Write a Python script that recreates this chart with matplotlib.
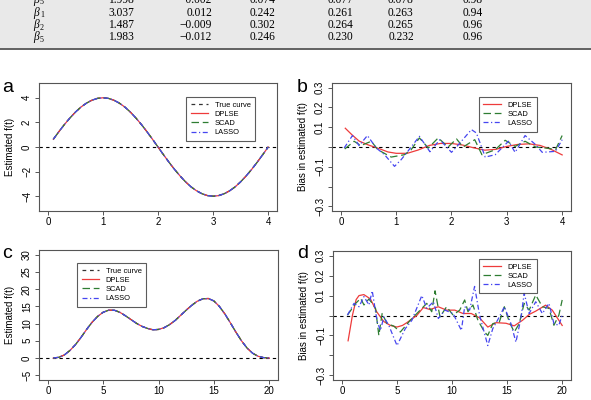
import numpy as np
import matplotlib.pyplot as plt
from matplotlib.patches import Rectangle

plt.rcParams['font.family'] = ['Liberation Sans', 'DejaVu Sans']

# table fragment at the top (rows are beta coefficients, subscript index)
row_index = ['5', '1', '2', '5']
col_mean = ['1.998', '3.037', '1.487', '1.983']
col_bias = ['\u22120.002', '0.012', '\u22120.009', '\u22120.012']
col_sd = ['0.074', '0.242', '0.302', '0.246']
col_se = ['0.077', '0.261', '0.264', '0.230']
col_rmse = ['0.078', '0.263', '0.265', '0.232']
col_cp = ['0.98', '0.94', '0.96', '0.96']

# panel a: true/estimated curve
a_t = [0.1, 0.2, 0.3, 0.4, 0.5, 0.6, 0.7, 0.8, 0.9, 1.0, 1.1, 1.2, 1.3, 1.4,
       1.5, 1.6, 1.7, 1.8, 1.9, 2.0, 2.1, 2.2, 2.3, 2.4, 2.5, 2.6, 2.7, 2.8,
       2.9, 3.0, 3.1, 3.2, 3.3, 3.4, 3.5, 3.6, 3.7, 3.8, 3.9, 4.0]
a_f = [0.63, 1.24, 1.82, 2.35, 2.83, 3.24, 3.56, 3.80, 3.95, 4.0, 3.95, 3.80,
       3.56, 3.24, 2.83, 2.35, 1.82, 1.24, 0.63, 0.0, -0.63, -1.24, -1.82,
       -2.35, -2.83, -3.24, -3.56, -3.80, -3.95, -4.0, -3.95, -3.80, -3.56,
       -3.24, -2.83, -2.35, -1.82, -1.24, -0.63, 0.0]

# panel b: bias curves
b_dplse_t = [0.08, 0.2, 0.33, 0.5, 0.7, 0.85, 1.0, 1.2, 1.4, 1.6, 1.8, 2.0,
             2.2, 2.4, 2.6, 2.8, 3.0, 3.2, 3.4, 3.6, 3.8, 4.0]
b_dplse = [0.095, 0.062, 0.03, 0.01, -0.009, -0.025, -0.032, -0.032, -0.015,
           0.008, 0.018, 0.018, 0.01, -0.004, -0.016, -0.012, 0.003, 0.013,
           0.016, 0.008, -0.012, -0.04]
b_scad_t = [0.07, 0.24, 0.36, 0.55, 0.67, 0.91, 1.15, 1.27, 1.42, 1.58, 1.76,
            1.94, 2.09, 2.21, 2.42, 2.55, 2.79, 2.97, 3.15, 3.33, 3.52, 3.76,
            3.88, 4.0]
b_scad = [-0.010, 0.029, 0.007, 0.029, -0.014, -0.051, -0.039, -0.014, 0.046,
          -0.005, 0.046, 0.0, 0.041, 0.0, 0.037, -0.039, -0.014, 0.034, 0.003,
          0.029, 0.0, -0.007, -0.014, 0.058]
b_lasso_t = [0.06, 0.21, 0.33, 0.48, 0.64, 0.79, 0.97, 1.09, 1.21, 1.42, 1.61,
             1.79, 2.0, 2.12, 2.36, 2.45, 2.61, 2.79, 3.03, 3.15, 3.33, 3.52,
             3.64, 3.88, 4.0]
b_lasso = [-0.005, 0.058, 0.007, 0.058, -0.005, -0.039, -0.098, -0.064,
           -0.022, 0.054, -0.024, 0.037, -0.027, 0.010, 0.088, 0.071, -0.051,
           -0.039, 0.029, -0.027, 0.058, 0.012, -0.027, -0.022, 0.037]

# panel c: true/estimated curve
c_t = [0.5, 1.0, 1.5, 2.0, 2.5, 3.0, 3.5, 4.0, 4.5, 5.0, 5.5, 6.0, 6.5, 7.0,
       7.5, 8.0, 8.5, 9.0, 9.5, 10.0, 10.5, 11.0, 11.5, 12.0, 12.5, 13.0,
       13.5, 14.0, 14.5, 15.0, 15.5, 16.0, 16.5, 17.0, 17.5, 18.0, 18.5,
       19.0, 19.5, 20.0]
c_f = [0.0, 0.2, 0.9, 2.2, 3.9, 6.0, 8.3, 10.4, 12.1, 13.3, 13.9, 13.9, 13.3,
       12.3, 11.2, 10.1, 9.2, 8.6, 8.2, 8.3, 8.8, 9.7, 10.9, 12.4, 13.9, 15.3,
       16.5, 17.2, 17.3, 16.6, 15.0, 12.8, 10.2, 7.5, 5.0, 2.9, 1.4, 0.5, 0.1,
       0.0]

# panel d: bias curves
d_dplse_t = [0.57, 0.96, 1.3, 1.56, 2.0, 2.6, 3.15, 3.8, 4.4, 5.0, 5.5, 5.9,
             6.8, 7.4, 8.0, 8.75, 9.5, 10.25, 11.0, 11.75, 12.5, 13.25, 14.0,
             14.9, 15.65, 16.4, 17.0, 17.6, 18.5, 19.1, 20.0]
d_dplse = [-0.127, 0.0, 0.08, 0.10, 0.105, 0.083, 0.02, -0.03, -0.05, -0.058,
           -0.05, -0.036, 0.0, 0.04, 0.03, 0.044, 0.027, 0.027, 0.01, 0.01,
           -0.012, -0.058, -0.036, -0.039, -0.052, -0.024, 0.005, 0.022,
           0.052, 0.027, -0.05]
d_scad_t = [0.51, 1.26, 1.71, 2.01, 2.46, 2.76, 3.06, 3.36, 3.66, 4.11, 4.71,
            5.31, 6.21, 7.11, 7.71, 8.16, 8.46, 8.91, 9.51, 10.1, 10.7, 11.15,
            11.45, 11.9, 12.35, 12.95, 13.25, 13.7, 14.3, 14.75, 15.2, 15.65,
            16.1, 16.55, 17.0, 17.6, 18.2, 18.8, 19.25, 19.7, 20.0]
d_scad = [0.002, 0.061, 0.086, 0.053, 0.083, 0.061, 0.036, -0.100, 0.010,
          -0.041, -0.053, -0.083, -0.024, 0.027, 0.061, 0.019, 0.124, -0.007,
          0.044, 0.002, 0.027, 0.078, 0.019, 0.053, -0.024, -0.083, -0.100,
          -0.041, -0.032, 0.044, -0.032, -0.083, -0.041, 0.061, 0.027, 0.103,
          0.044, 0.036, -0.049, 0.002, 0.078]
d_lasso_t = [0.51, 1.11, 1.56, 2.01, 2.46, 2.76, 3.21, 3.51, 3.81, 4.26, 5.01,
             5.76, 6.36, 7.26, 7.71, 8.31, 8.76, 9.36, 10.1, 10.85, 11.15,
             11.6, 12.05, 12.5, 13.25, 13.7, 14.3, 14.75, 15.35, 15.8, 16.25,
             16.55, 17.0, 17.6, 18.2, 18.8, 19.25, 19.7, 20.0]
d_lasso = [0.002, 0.061, 0.044, 0.095, 0.053, 0.124, -0.032, -0.075, -0.007,
           -0.049, -0.151, -0.066, -0.024, 0.100, 0.036, 0.069, -0.015, 0.027,
           0.010, -0.075, 0.044, 0.027, 0.146, 0.002, -0.151, -0.066, -0.007,
           0.044, -0.041, -0.134, -0.015, 0.112, 0.010, 0.069, 0.010, 0.061,
           -0.041, -0.049, 0.002]

RED = '#ee3b3b'
GREEN = '#2e7d32'
BLUE = '#4646f0'
TRUE = '#333333'

W, H = 591, 400
fig = plt.figure(figsize=(W / 100, H / 100), dpi=100)

# grey table band
fig.patches.append(Rectangle((0, 1 - 48 / H), 1, 48 / H, transform=fig.transFigure,
                             facecolor='#e9e9e9', edgecolor='none', zorder=0))
fig.add_artist(plt.Line2D([0, 1], [1 - 49 / H, 1 - 49 / H], color='#555555', lw=1.3))

row_y = [0, 12.7, 25, 37.3]
for i, y in enumerate(row_y):
    yy = 1 - y / H
    kw = dict(va='center', fontsize=8.3, family='Liberation Serif')
    fig.text(36 / W, yy, '\u03b2', ha='center', style='italic', **kw)
    fig.text(40 / W, yy - 2.5 / H, row_index[i], ha='left', va='center',
             fontsize=5.8, family='Liberation Serif')
    fig.text(121 / W, yy, col_mean[i], ha='center', **kw)
    fig.text(212 / W, yy, col_bias[i], ha='right', **kw)
    fig.text(263 / W, yy, col_sd[i], ha='center', **kw)
    fig.text(341 / W, yy, col_se[i], ha='center', **kw)
    fig.text(401 / W, yy, col_rmse[i], ha='center', **kw)
    fig.text(473 / W, yy, col_cp[i], ha='center', **kw)


def make_axes(left, top, right, bottom):
    return fig.add_axes([left / W, 1 - bottom / H, (right - left) / W, (bottom - top) / H])


def style(ax, xticks, yticks, ylabels, ylabel):
    for s in ax.spines.values():
        s.set_color('#555555')
        s.set_linewidth(0.8)
    ax.set_xticks(xticks)
    ax.set_yticks(yticks)
    ax.set_yticklabels(ylabels, rotation=90, va='center')
    ax.tick_params(length=3, width=0.7, color='#555555', labelsize=7, pad=1.5)
    ax.tick_params(axis='y', pad=2)
    ax.set_ylabel(ylabel, fontsize=7)
    ax.yaxis.set_label_coords(-0.1, 0.5)
    ax.axhline(0, color='black', lw=0.8, ls=(0, (3, 3)), zorder=1)


def legend(ax, x, y):
    leg = ax.legend(loc='upper left', bbox_to_anchor=(x, y), fontsize=5.4,
                    frameon=True, fancybox=False, edgecolor='#333333',
                    handlelength=2.3, labelspacing=0.25, borderpad=0.6,
                    handletextpad=0.9, borderaxespad=0)
    leg.get_frame().set_linewidth(0.8)


def curves(ax, t, f):
    ax.plot(t, f, color=TRUE, lw=0.9, ls=(0, (3, 3)), label='True curve')
    ax.plot(t, f, color=RED, lw=0.9, label='DPLSE')
    ax.plot(t, f, color=GREEN, lw=0.9, ls=(0, (6, 3)), label='SCAD')
    ax.plot(t, f, color=BLUE, lw=0.9, ls=(0, (4, 2, 1, 2)), label='LASSO')


# panel a
ax = make_axes(39, 83, 277, 211)
curves(ax, a_t, a_f)
ax.set_xlim(-0.16, 4.16)
ax.set_ylim(-5.2, 5.2)
style(ax, [0, 1, 2, 3, 4], [-4, -2, 0, 2, 4], ['\u22124', '\u22122', '0', '2', '4'],
      'Estimated f(t)')
legend(ax, 0.618, 0.89)

# panel b
ax = make_axes(332, 83, 571, 211)
ax.plot(b_dplse_t, b_dplse, color=RED, lw=0.9, label='DPLSE')
ax.plot(b_scad_t, b_scad, color=GREEN, lw=0.9, ls=(0, (6, 3)), label='SCAD')
ax.plot(b_lasso_t, b_lasso, color=BLUE, lw=0.9, ls=(0, (4, 2, 1, 2)), label='LASSO')
ax.set_xlim(-0.16, 4.16)
ax.set_ylim(-0.324, 0.324)
style(ax, [0, 1, 2, 3, 4], [-0.3, -0.2, -0.1, 0, 0.1, 0.2, 0.3],
      ['\u22120.3', '', '\u22120.1', '', '0.1', '0.2', '0.3'], 'Bias in estimated f(t)')
legend(ax, 0.615, 0.89)

# panel c
ax = make_axes(39, 250, 278, 380)
curves(ax, c_t, c_f)
ax.set_xlim(-0.8, 20.8)
ax.set_ylim(-6.4, 31.4)
style(ax, [0, 5, 10, 15, 20], [-5, 0, 5, 10, 15, 20, 25, 30],
      ['\u22125', '0', '5', '10', '15', '20', '25', '30'], 'Estimated f(t)')
legend(ax, 0.159, 0.9)

# panel d
ax = make_axes(333, 251, 571, 380)
ax.plot(d_dplse_t, d_dplse, color=RED, lw=0.9, label='DPLSE')
ax.plot(d_scad_t, d_scad, color=GREEN, lw=0.9, ls=(0, (6, 3)), label='SCAD')
ax.plot(d_lasso_t, d_lasso, color=BLUE, lw=0.9, ls=(0, (4, 2, 1, 2)), label='LASSO')
ax.set_xlim(-0.8, 20.8)
ax.set_ylim(-0.324, 0.324)
style(ax, [0, 5, 10, 15, 20], [-0.3, -0.2, -0.1, 0, 0.1, 0.2, 0.3],
      ['\u22120.3', '', '\u22120.1', '', '0.1', '0.2', '0.3'], 'Bias in estimated f(t)')
legend(ax, 0.613, 0.938)

# panel letters
for lab, x, y in [('a', 2, 88), ('b', 297, 88), ('c', 2, 253), ('d', 297, 253)]:
    fig.text(x / W, 1 - y / H, lab, fontsize=14, va='center', ha='left')

fig.savefig('out.png', dpi=100)
